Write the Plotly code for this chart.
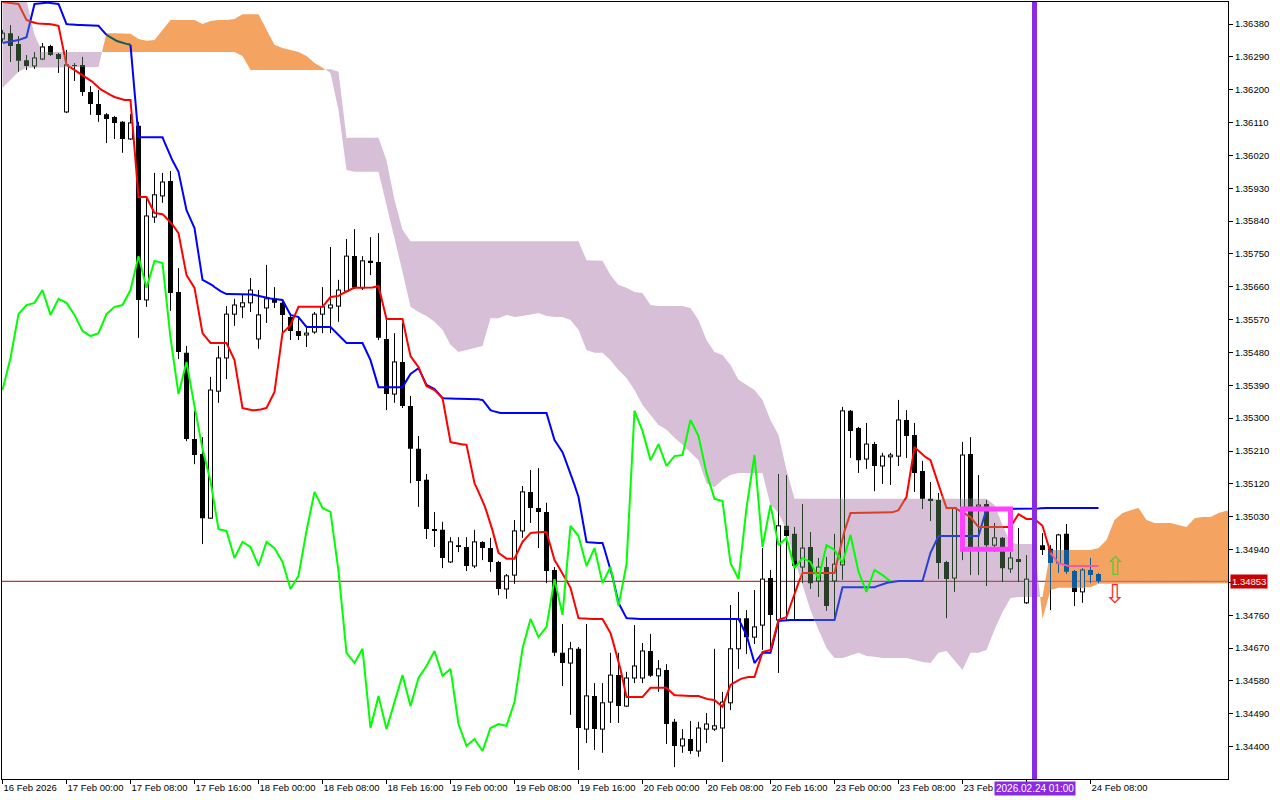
import math
from collections import defaultdict
import plotly.graph_objects as go

# ---------------- data (GBP/USD H1, bars 0..137) ----------------
open_ = [1.36339,1.36355,1.36325,1.36281,1.36265,1.36284,1.36320,1.36298,1.36139,1.36268,
         1.36268,1.36194,1.36161,1.36133,1.36125,1.36112,1.36065,1.36101,1.35624,1.35851,
         1.35909,1.35950,1.35646,1.35479,1.35243,1.35202,1.35026,1.35374,1.35465,1.35585,
         1.35605,1.35616,1.35517,1.35602,1.35627,1.35616,1.35577,1.35539,1.35528,1.35536,
         1.35585,1.35602,1.35607,1.35648,1.35744,1.35657,1.35731,1.35728,1.35517,1.35366,
         1.35454,1.35333,1.35216,1.35131,1.34996,1.34994,1.34906,1.34952,1.34947,1.34895,
         1.34961,1.34944,1.34906,1.34832,1.34870,1.34991,1.35098,1.35054,1.35043,1.34884,
         1.34657,1.34629,1.34668,1.34448,1.34539,1.34448,1.34522,1.34596,1.34511,1.34588,
         1.34588,1.34662,1.34594,1.34610,1.34468,1.34402,1.34421,1.34388,1.34448,1.34448,
         1.34451,1.34520,1.34668,1.34752,1.34700,1.34733,1.34862,1.34747,1.35005,1.34983,
         1.34892,1.34947,1.34854,1.34892,1.34854,1.34898,1.35320,1.35273,1.35188,1.35229,
         1.35169,1.35194,1.35196,1.35295,1.35254,1.35155,1.35081,1.35076,1.34906,1.34862,
         1.34950,1.35202,1.35057,1.35065,1.34952,1.34972,1.34887,1.34914,1.34794,1.34857,
         1.34952,1.34942,1.34903,1.34983,1.34881,1.34824,1.34884,1.34873]
high = [1.36364,1.36377,1.36347,1.36295,1.36303,1.36328,1.36323,1.36301,1.36309,1.36273,
        1.36290,1.36210,1.36199,1.36136,1.36128,1.36114,1.36133,1.36112,1.35903,1.35972,
        1.35972,1.35977,1.35711,1.35498,1.35320,1.35248,1.35413,1.35498,1.35607,1.35627,
        1.35640,1.35684,1.35651,1.35720,1.35659,1.35624,1.35588,1.35577,1.35550,1.35591,
        1.35659,1.35769,1.35679,1.35791,1.35818,1.35744,1.35796,1.35807,1.35569,1.35533,
        1.35561,1.35361,1.35251,1.35147,1.35043,1.35016,1.34974,1.34974,1.34974,1.34994,
        1.34963,1.34972,1.34909,1.34873,1.35021,1.35114,1.35158,1.35163,1.35068,1.34892,
        1.34736,1.34687,1.34673,1.34736,1.34574,1.34574,1.34657,1.34657,1.34605,1.34733,
        1.34684,1.34709,1.34637,1.34626,1.34476,1.34448,1.34470,1.34468,1.34492,1.34668,
        1.34550,1.34788,1.34824,1.34774,1.34829,1.34944,1.34884,1.35147,1.35144,1.35002,
        1.35065,1.34988,1.34917,1.34920,1.34983,1.35331,1.35322,1.35276,1.35287,1.35235,
        1.35205,1.35205,1.35350,1.35322,1.35287,1.35183,1.35125,1.35095,1.34909,1.35057,
        1.35235,1.35248,1.35144,1.35076,1.35013,1.34974,1.34933,1.34999,1.34925,1.34966,
        1.34985,1.34952,1.34983,1.35010,1.34884,1.34889,1.34917,1.34876]
low = [1.36331,1.36276,1.36249,1.36254,1.36257,1.36281,1.36292,1.36246,1.36136,1.36224,
       1.36183,1.36131,1.36112,1.36054,1.36065,1.36027,1.36062,1.35520,1.35605,1.35835,
       1.35890,1.35594,1.35462,1.35237,1.35174,1.34955,1.35024,1.35342,1.35407,1.35553,
       1.35574,1.35591,1.35490,1.35561,1.35602,1.35536,1.35514,1.35514,1.35495,1.35531,
       1.35533,1.35533,1.35564,1.35646,1.35654,1.35651,1.35692,1.35514,1.35322,1.35342,
       1.35328,1.35122,1.35057,1.34969,1.34947,1.34889,1.34903,1.34933,1.34881,1.34889,
       1.34911,1.34879,1.34815,1.34805,1.34846,1.34972,1.35013,1.34944,1.34848,1.34648,
       1.34566,1.34487,1.34336,1.34410,1.34391,1.34383,1.34465,1.34465,1.34509,1.34574,
       1.34574,1.34591,1.34550,1.34407,1.34344,1.34383,1.34380,1.34372,1.34410,1.34443,
       1.34358,1.34500,1.34613,1.34654,1.34681,1.34665,1.34665,1.34602,1.34747,1.34747,
       1.34848,1.34832,1.34810,1.34772,1.34747,1.34857,1.35191,1.35150,1.35161,1.35100,
       1.35120,1.35117,1.35169,1.35191,1.35098,1.35051,1.35018,1.34859,1.34752,1.34824,
       1.34911,1.34870,1.34870,1.34840,1.34933,1.34851,1.34876,1.34851,1.34791,1.34829,
       1.34925,1.34774,1.34876,1.34873,1.34785,1.34794,1.34848,1.34848]
close = [1.36355,1.36320,1.36279,1.36265,1.36287,1.36317,1.36295,1.36284,1.36268,1.36265,
         1.36194,1.36161,1.36131,1.36120,1.36109,1.36065,1.36109,1.35624,1.35854,1.35912,
         1.35947,1.35643,1.35481,1.35243,1.35199,1.35026,1.35377,1.35465,1.35585,1.35610,
         1.35616,1.35651,1.35583,1.35627,1.35616,1.35583,1.35539,1.35525,1.35533,1.35585,
         1.35605,1.35610,1.35651,1.35744,1.35657,1.35731,1.35725,1.35520,1.35366,1.35454,
         1.35333,1.35216,1.35128,1.34996,1.34991,1.34917,1.34961,1.34947,1.34895,1.34961,
         1.34944,1.34906,1.34832,1.34868,1.34991,1.35098,1.35054,1.35043,1.34881,1.34657,
         1.34629,1.34668,1.34451,1.34539,1.34448,1.34520,1.34596,1.34511,1.34588,1.34621,
         1.34662,1.34594,1.34613,1.34462,1.34402,1.34421,1.34388,1.34451,1.34462,1.34457,
         1.34522,1.34668,1.34750,1.34700,1.34728,1.34859,1.34761,1.35005,1.34977,1.34895,
         1.34944,1.34848,1.34892,1.34785,1.34900,1.35320,1.35265,1.35185,1.35229,1.35169,
         1.35196,1.35199,1.35295,1.35251,1.35150,1.35079,1.35073,1.34903,1.34859,1.35054,
         1.35199,1.34947,1.35062,1.34952,1.34972,1.34889,1.34917,1.34906,1.34859,1.34952,
         1.34939,1.34903,1.34980,1.34879,1.34824,1.34884,1.34870,1.34853]

tenkan = [1.36440,1.36438,1.36435,1.36391,1.36383,1.36380,1.36380,1.36375,1.36268,1.36254,
          1.36240,1.36227,1.36205,1.36191,1.36180,1.36172,1.36172,1.35906,1.35906,1.35862,
          1.35859,1.35838,1.35807,1.35692,1.35657,1.35533,1.35506,1.35506,1.35506,1.35459,
          1.35328,1.35322,1.35322,1.35328,1.35372,1.35533,1.35555,1.35605,1.35605,1.35605,
          1.35605,1.35632,1.35635,1.35648,1.35657,1.35657,1.35657,1.35662,1.35572,1.35572,
          1.35572,1.35470,1.35440,1.35388,1.35377,1.35355,1.35235,1.35229,1.35227,1.35122,
          1.35076,1.35013,1.34931,1.34915,1.34915,1.34961,1.34985,1.34988,1.34988,1.34911,
          1.34876,1.34835,1.34752,1.34750,1.34750,1.34750,1.34711,1.34637,1.34536,1.34536,
          1.34536,1.34561,1.34561,1.34561,1.34541,1.34539,1.34539,1.34539,1.34530,1.34528,
          1.34509,1.34569,1.34583,1.34591,1.34591,1.34659,1.34665,1.34747,1.34755,1.34821,
          1.34876,1.34876,1.34876,1.34876,1.34876,1.34974,1.35040,1.35040,1.35040,1.35040,
          1.35040,1.35040,1.35048,1.35084,1.35221,1.35199,1.35185,1.35117,1.35054,1.35054,
          1.35043,1.35029,1.35002,1.35002,1.35002,1.35002,1.35002,1.35037,1.35024,1.35024,
          1.35005,1.34931,1.34903,1.34895,1.34895,1.34895,1.34895,1.34895]
kijun = [1.36328,1.36331,1.36336,1.36344,1.36435,1.36438,1.36438,1.36435,1.36380,1.36377,
         1.36377,1.36377,1.36375,1.36350,1.36336,1.36328,1.36323,1.36070,1.36070,1.36070,
         1.36070,1.36016,1.35975,1.35870,1.35821,1.35679,1.35668,1.35651,1.35640,1.35640,
         1.35640,1.35640,1.35635,1.35629,1.35627,1.35624,1.35583,1.35577,1.35550,1.35550,
         1.35550,1.35550,1.35528,1.35506,1.35506,1.35506,1.35459,1.35385,1.35385,1.35385,
         1.35385,1.35421,1.35437,1.35391,1.35380,1.35355,1.35353,1.35353,1.35353,1.35353,
         1.35350,1.35322,1.35314,1.35314,1.35314,1.35314,1.35314,1.35314,1.35314,1.35240,
         1.35207,1.35150,1.35084,1.34961,1.34958,1.34958,1.34889,1.34794,1.34752,1.34750,
         1.34750,1.34750,1.34750,1.34750,1.34750,1.34750,1.34750,1.34750,1.34750,1.34750,
         1.34750,1.34750,1.34750,1.34706,1.34629,1.34657,1.34657,1.34744,1.34747,1.34747,
         1.34747,1.34747,1.34747,1.34747,1.34747,1.34837,1.34837,1.34837,1.34837,1.34837,
         1.34846,1.34851,1.34854,1.34854,1.34854,1.34854,1.34931,1.34977,1.34977,1.34977,
         1.34977,1.34977,1.34977,1.35051,1.35051,1.35051,1.35051,1.35051,1.35051,1.35051,
         1.35054,1.35054,1.35054,1.35054,1.35054,1.35054,1.35054,1.35054]
# Senkou spans, bars 0..154 (shifted 26 bars forward)
span_a = [1.36205,1.36227,1.36249,1.36260,1.36262,1.36262,1.36262,1.36262,1.36262,1.36262,
          1.36262,1.36262,1.36262,1.36355,1.36355,1.36355,1.36353,1.36339,1.36334,1.36336,
          1.36364,1.36391,1.36391,1.36391,1.36391,1.36380,1.36388,1.36391,1.36391,1.36394,
          1.36407,1.36407,1.36407,1.36364,1.36323,1.36314,1.36309,1.36303,1.36292,1.36273,
          1.36260,1.36246,1.36144,1.35980,1.35975,1.35975,1.35975,1.35975,1.35884,1.35796,
          1.35701,1.35605,1.35591,1.35580,1.35564,1.35542,1.35501,1.35481,1.35487,1.35492,
          1.35498,1.35574,1.35574,1.35583,1.35577,1.35580,1.35583,1.35588,1.35580,1.35577,
          1.35577,1.35569,1.35542,1.35487,1.35479,1.35479,1.35459,1.35432,1.35410,1.35377,
          1.35336,1.35309,1.35281,1.35268,1.35246,1.35227,1.35207,1.35185,1.35122,1.35111,
          1.35131,1.35144,1.35150,1.35150,1.35150,1.35150,1.35062,1.35040,1.34994,1.34911,
          1.34843,1.34774,1.34720,1.34670,1.34643,1.34643,1.34651,1.34657,1.34648,1.34646,
          1.34643,1.34643,1.34643,1.34643,1.34637,1.34632,1.34629,1.34657,1.34662,1.34637,
          1.34610,1.34657,1.34657,1.34665,1.34720,1.34769,1.34807,1.34810,1.34810,1.34810,
          1.34810,1.34939,1.34939,1.34939,1.34939,1.34939,1.34939,1.34944,1.34966,1.35021,
          1.35040,1.35048,1.35054,1.35021,1.35013,1.35013,1.35013,1.35007,1.35002,1.35026,
          1.35029,1.35029,1.35040,1.35046,1.35046]
span_b = [1.36501,1.36501,1.36487,1.36446,1.36350,1.36303,1.36303,1.36303,1.36303,1.36303,
          1.36303,1.36303,1.36303,1.36303,1.36303,1.36303,1.36303,1.36303,1.36303,1.36303,
          1.36303,1.36303,1.36303,1.36303,1.36303,1.36303,1.36303,1.36303,1.36303,1.36303,
          1.36292,1.36254,1.36254,1.36254,1.36254,1.36254,1.36254,1.36254,1.36254,1.36254,
          1.36254,1.36257,1.36249,1.36068,1.36068,1.36068,1.36068,1.36068,1.36007,1.35898,
          1.35816,1.35785,1.35785,1.35785,1.35785,1.35785,1.35785,1.35785,1.35785,1.35785,
          1.35785,1.35785,1.35785,1.35785,1.35785,1.35785,1.35785,1.35785,1.35785,1.35785,
          1.35785,1.35785,1.35785,1.35733,1.35731,1.35731,1.35692,1.35665,1.35657,1.35646,
          1.35643,1.35610,1.35607,1.35607,1.35607,1.35607,1.35602,1.35569,1.35514,1.35481,
          1.35473,1.35446,1.35405,1.35391,1.35377,1.35350,1.35295,1.35254,1.35158,1.35079,
          1.35079,1.35079,1.35079,1.35079,1.35079,1.35079,1.35079,1.35079,1.35079,1.35079,
          1.35079,1.35079,1.35079,1.35079,1.35079,1.35079,1.35079,1.35079,1.35079,1.35079,
          1.35079,1.35079,1.35079,1.35079,1.35062,1.35007,1.34958,1.34955,1.34955,1.34955,
          1.34750,1.34829,1.34835,1.34835,1.34835,1.34835,1.34837,1.34846,1.34846,1.34846,
          1.34846,1.34846,1.34846,1.34846,1.34846,1.34846,1.34846,1.34846,1.34846,1.34848,
          1.34848,1.34848,1.34848,1.34848,1.34848]

x_tick_bars = [0, 8, 16, 24, 32, 40, 48, 56, 64, 72, 80, 88, 96, 104, 112, 120, 128, 136]
x_tick_labels = ["16 Feb 2026", "17 Feb 00:00", "17 Feb 08:00", "17 Feb 16:00", "18 Feb 00:00",
                 "18 Feb 08:00", "18 Feb 16:00", "19 Feb 00:00", "19 Feb 08:00", "19 Feb 16:00",
                 "20 Feb 00:00", "20 Feb 08:00", "20 Feb 16:00", "23 Feb 00:00", "23 Feb 08:00",
                 "23 Feb", "", "24 Feb 08:00"]
y_tick_values = [1.34400, 1.34490, 1.34580, 1.34670, 1.34760, 1.34850, 1.34940, 1.35030,
                 1.35120, 1.35210, 1.35300, 1.35390, 1.35480, 1.35570, 1.35660, 1.35750,
                 1.35840, 1.35930, 1.36020, 1.36110, 1.36200, 1.36290, 1.36380]
current_price = 1.34853
marker_bar = 129
marker_label = "2026.02.24 01:00"
box_bars = [120, 126]
box_prices = [1.34941, 1.35051]
arrow_bar = 139
arrow_prices = [1.34895, 1.34818]
chikou_shift = 26

# ---------------- styling ----------------
THISTLE = "#D8BFD8"
ORANGE = "#F4A460"
BLACK = "#000000"
WHITE = "#FFFFFF"
RED = "#FF0000"
BLUE = "#0000FF"
LIME = "#00FF00"
FONT = "Liberation Sans"
PX = 0.0000274  # price per pixel (for minimum body height)


def xor_col(c, cloud):
    v = int(c[1:], 16) ^ int(cloud[1:], 16) ^ 0xFFFFFF
    return "#%06X" % v


def cloud_bounds(xf):
    n = len(span_a)
    if xf <= 0:
        i, t = 0, 0.0
    elif xf >= n - 1:
        i, t = n - 2, 1.0
    else:
        i = int(math.floor(xf))
        t = xf - i
    a = span_a[i] + (span_a[i + 1] - span_a[i]) * t
    b = span_b[i] + (span_b[i + 1] - span_b[i]) * t
    return a, b


def shade(color, price, xf):
    a, b = cloud_bounds(xf)
    if min(a, b) < price < max(a, b):
        return xor_col(color, ORANGE if a > b else THISTLE)
    return color


def split_interval(p0, p1, i, color):
    lo_p, hi_p = min(p0, p1), max(p0, p1)
    a, b = span_a[i], span_b[i]
    cuts = sorted(set([lo_p, hi_p] + [v for v in (a, b) if lo_p < v < hi_p]))
    out = []
    for u, v in zip(cuts[:-1], cuts[1:]):
        out.append((u, v, shade(color, (u + v) / 2, i)))
    return out


def seg_traces(store, width):
    traces = []
    for color, segs in store.items():
        xs, ys = [], []
        for (x0, y0, x1, y1) in segs:
            xs += [x0, x1, None]
            ys += [y0, y1, None]
        traces.append(go.Scatter(x=xs, y=ys, mode="lines", line=dict(color=color, width=width),
                                 hoverinfo="skip", showlegend=False))
    return traces


def rect_traces(store):
    traces = []
    for color, rects in store.items():
        xs, ys = [], []
        for (x0, y0, x1, y1) in rects:
            xs += [x0, x1, x1, x0, x0, None]
            ys += [y0, y0, y1, y1, y0, None]
        traces.append(go.Scatter(x=xs, y=ys, mode="lines", fill="toself", fillcolor=color,
                                 line=dict(width=0, color=color),
                                 hoverinfo="skip", showlegend=False))
    return traces


def colored_line(xs, ys, color, width, sub=4, shaded=True):
    groups = {}
    prev = None
    for k in range(len(xs) - 1):
        for s in range(sub):
            t0, t1 = s / sub, (s + 1) / sub
            x0 = xs[k] + (xs[k + 1] - xs[k]) * t0
            x1 = xs[k] + (xs[k + 1] - xs[k]) * t1
            y0 = ys[k] + (ys[k + 1] - ys[k]) * t0
            y1 = ys[k] + (ys[k + 1] - ys[k]) * t1
            col = shade(color, (y0 + y1) / 2, (x0 + x1) / 2) if shaded else color
            gx, gy = groups.setdefault(col, ([], []))
            if col == prev:
                gx.append(x1)
                gy.append(y1)
            else:
                if gx:
                    gx.append(None)
                    gy.append(None)
                gx += [x0, x1]
                gy += [y0, y1]
            prev = col
    return [go.Scatter(x=gx, y=gy, mode="lines", line=dict(color=c, width=width),
                       hoverinfo="skip", showlegend=False) for c, (gx, gy) in groups.items()]


fig = go.Figure()

# ---- cloud polygons ----
n = len(span_a)
runs = []
col_of = lambda i: ORANGE if span_a[i] > span_b[i] else THISTLE
cur = col_of(0)
top = [(0, max(span_a[0], span_b[0]))]
bot = [(0, min(span_a[0], span_b[0]))]
for i in range(n - 1):
    d0 = span_a[i] - span_b[i]
    d1 = span_a[i + 1] - span_b[i + 1]
    if (d0 > 0) != (d1 > 0):
        t = d0 / (d0 - d1)
        xc = i + t
        yc = span_a[i] + t * (span_a[i + 1] - span_a[i])
        top.append((xc, yc))
        bot.append((xc, yc))
        runs.append((cur, top, bot))
        cur = col_of(i + 1)
        top = [(xc, yc)]
        bot = [(xc, yc)]
    top.append((i + 1, max(span_a[i + 1], span_b[i + 1])))
    bot.append((i + 1, min(span_a[i + 1], span_b[i + 1])))
runs.append((cur, top, bot))
for color, tp, bt in runs:
    pts = tp + bt[::-1]
    fig.add_trace(go.Scatter(x=[p[0] for p in pts], y=[p[1] for p in pts], mode="lines",
                             fill="toself", fillcolor=color, line=dict(width=0, color=color),
                             hoverinfo="skip", showlegend=False))

# ---- current price line ----
pl_x = [-1 + k for k in range(0, n + 2)]
pl_y = [current_price] * len(pl_x)
for tr in colored_line(pl_x, pl_y, "#B40000", 1, sub=8):
    fig.add_trace(tr)

# ---- candles ----
wicks = defaultdict(list)
outlines = defaultdict(list)
bodies = defaultdict(list)
for i in range(len(close)):
    for (u, v, c) in split_interval(low[i], high[i], i, BLACK):
        wicks[c].append((i, u, i, v))
    o, c_ = open_[i], close[i]
    tp, bt = max(o, c_), min(o, c_)
    if tp - bt < PX:
        m = (tp + bt) / 2
        tp, bt = m + PX / 2, m - PX / 2
    if c_ > o:
        for (u, v, c) in split_interval(bt, tp, i, WHITE):
            bodies[c].append((i - 0.25, u, i + 0.25, v))
        for (u, v, c) in split_interval(bt, tp, i, BLACK):
            outlines[c].append((i - 0.25, u, i - 0.25, v))
            outlines[c].append((i + 0.25, u, i + 0.25, v))
        for p in (tp, bt):
            c = shade(BLACK, p, i)
            outlines[c].append((i - 0.3125, p, i + 0.3125, p))
    else:
        for (u, v, c) in split_interval(bt, tp, i, BLACK):
            bodies[c].append((i - 0.3125, u, i + 0.3125, v))

for tr in seg_traces(wicks, 1):
    fig.add_trace(tr)
for tr in rect_traces(bodies):
    fig.add_trace(tr)
for tr in seg_traces(outlines, 1):
    fig.add_trace(tr)

# ---- tenkan / kijun (drawn under the cloud in the terminal) ----
bars = list(range(len(close)))
for tr in colored_line(bars, kijun, BLUE, 2):
    fig.add_trace(tr)
for tr in colored_line(bars, tenkan, RED, 2):
    fig.add_trace(tr)

# ---- chikou (drawn over the cloud) ----
ch_x = list(range(len(close) - chikou_shift))
ch_y = close[chikou_shift:]
for tr in colored_line(ch_x, ch_y, LIME, 2, sub=1, shaded=False):
    fig.add_trace(tr)

# ---- arrows ----
fig.add_annotation(x=arrow_bar, y=arrow_prices[0], text="⇧", showarrow=False, height=22, width=20,
                   font=dict(family="DejaVu Sans", size=26, color="#5CC83A"))
fig.add_annotation(x=arrow_bar, y=arrow_prices[1], text="⇩", showarrow=False, height=22, width=20,
                   font=dict(family="DejaVu Sans", size=26, color="#FF2A2A"))

# ---- marker line, box ----
fig.add_shape(type="line", xref="x", yref="paper", x0=marker_bar, x1=marker_bar, y0=0, y1=1,
              line=dict(color="#8A2BE2", width=5))
fig.add_shape(type="rect", xref="x", yref="y", x0=box_bars[0], x1=box_bars[1],
              y0=box_prices[0], y1=box_prices[1], line=dict(color="#FF40FF", width=5))

fig.add_annotation(x=marker_bar, xref="x", y=0, yref="paper", yanchor="top", yshift=-2,
                   text=marker_label, showarrow=False, bgcolor="#8A2BE2", borderpad=1,
                   font=dict(family=FONT, size=10, color="white"))
fig.add_annotation(x=1, xref="paper", xanchor="left", xshift=2, y=current_price, yref="y",
                   text="%.5f" % current_price, showarrow=False, bgcolor="#C80000", borderpad=1,
                   font=dict(family=FONT, size=9.5, color="white"))

y_tick_text = ["" if abs(v - current_price) < 0.0002 else "%.5f" % v for v in y_tick_values]

fig.update_layout(
    width=1280, height=800,
    margin=dict(l=2, r=52, t=2, b=21),
    paper_bgcolor="white", plot_bgcolor="white",
    showlegend=False, hovermode=False,
    font=dict(family=FONT, size=9, color="black"),
    xaxis=dict(range=[-0.0625, 153.1875], tickvals=x_tick_bars, ticktext=x_tick_labels,
               ticks="outside", ticklen=4, tickcolor="black", ticklabelposition="outside right",
               tickangle=0, showline=True, linecolor="black", linewidth=1, mirror=True,
               showgrid=False, zeroline=False, tickfont=dict(family=FONT, size=9.5, color="black")),
    yaxis=dict(range=[1.343113, 1.364403], side="right", tickvals=y_tick_values,
               ticktext=y_tick_text,
               ticks="outside", ticklen=4, tickcolor="black",
               showline=True, linecolor="black", linewidth=1, mirror=True,
               showgrid=False, zeroline=False, tickfont=dict(family=FONT, size=9.5, color="black")),
)

fig.write_html("out.html", config={"displayModeBar": False},
               post_script="document.body.style.margin='0';document.body.style.overflow='hidden';")
